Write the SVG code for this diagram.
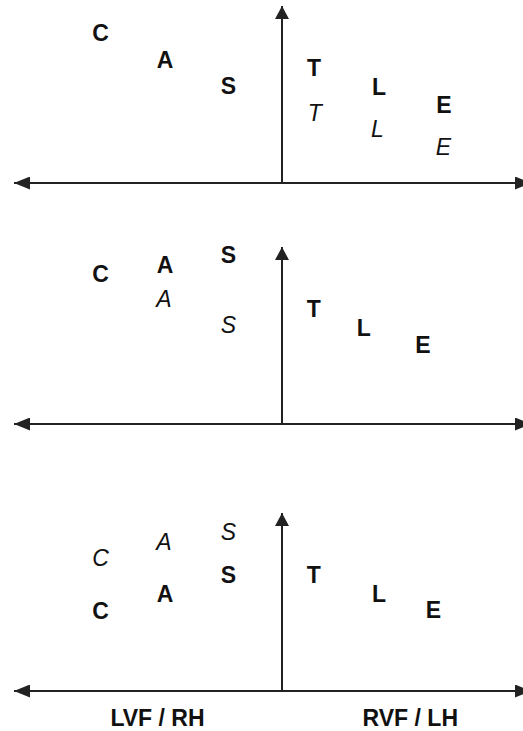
<svg xmlns="http://www.w3.org/2000/svg" width="523" height="731" viewBox="0 0 523 731">
<style>
  .b { font-family: "Liberation Sans", Arial, sans-serif; font-weight: bold; font-size: 23px; fill: #111; text-anchor: middle; }
  .i { font-family: "Liberation Sans", Arial, sans-serif; font-style: italic; font-size: 23px; fill: #111; text-anchor: middle; }
  .axis { stroke: #222; stroke-width: 2; fill: none; }
  .lbl { font-family: "Liberation Sans", Arial, sans-serif; font-weight: bold; font-size: 23px; fill: #111; text-anchor: middle; }
</style>
<defs>
  <marker id="ah" markerUnits="userSpaceOnUse" markerWidth="16" markerHeight="13" refX="16" refY="6.5" orient="auto-start-reverse">
    <path d="M0,0 L16,6.5 L0,13 z" fill="#222"/>
  </marker>
  <marker id="av" markerUnits="userSpaceOnUse" markerWidth="13" markerHeight="14" refX="13" refY="7" orient="auto">
    <path d="M0,0 L13,7 L0,14 z" fill="#222"/>
  </marker>
</defs>
<rect width="523" height="731" fill="#fff"/>

<g id="connectors">
  <line class="axis" x1="14" y1="183" x2="531" y2="183" marker-start="url(#ah)" marker-end="url(#ah)"/>
  <line class="axis" x1="282" y1="183" x2="282" y2="6" marker-end="url(#av)"/>
  <line class="axis" x1="14" y1="424" x2="531" y2="424" marker-start="url(#ah)" marker-end="url(#ah)"/>
  <line class="axis" x1="282" y1="424" x2="282" y2="247" marker-end="url(#av)"/>
  <line class="axis" x1="14" y1="691" x2="531" y2="691" marker-start="url(#ah)" marker-end="url(#ah)"/>
  <line class="axis" x1="282" y1="691" x2="282" y2="513" marker-end="url(#av)"/>
</g>

<g id="panel1">
  <text class="b" x="100.5" y="41">C</text>
  <text class="b" x="165" y="68">A</text>
  <text class="b" x="228.5" y="94">S</text>
  <text class="b" x="314" y="76">T</text>
  <text class="i" x="314.7" y="120.5">T</text>
  <text class="b" x="379" y="95">L</text>
  <text class="i" x="377.5" y="137">L</text>
  <text class="b" x="444" y="112.5">E</text>
  <text class="i" x="443.5" y="155">E</text>
</g>

<g id="panel2">
  <text class="b" x="100.5" y="282.3">C</text>
  <text class="b" x="165" y="273.3">A</text>
  <text class="i" x="164" y="307.3">A</text>
  <text class="b" x="228.3" y="263.3">S</text>
  <text class="i" x="228.3" y="332.7">S</text>
  <text class="b" x="313.7" y="317.3">T</text>
  <text class="b" x="363.7" y="336">L</text>
  <text class="b" x="422.8" y="352.7">E</text>
</g>

<g id="panel3">
  <text class="i" x="100.5" y="565.7">C</text>
  <text class="b" x="100.5" y="619">C</text>
  <text class="i" x="164" y="550">A</text>
  <text class="b" x="165" y="601.7">A</text>
  <text class="i" x="228.3" y="540">S</text>
  <text class="b" x="228.3" y="583.3">S</text>
  <text class="b" x="313.7" y="583.3">T</text>
  <text class="b" x="379" y="601.7">L</text>
  <text class="b" x="433.3" y="618.3">E</text>
</g>

<g id="labels">
  <text class="lbl" x="157.5" y="725.7">LVF / RH</text>
  <text class="lbl" x="410.3" y="725.7">RVF / LH</text>
</g>
</svg>
